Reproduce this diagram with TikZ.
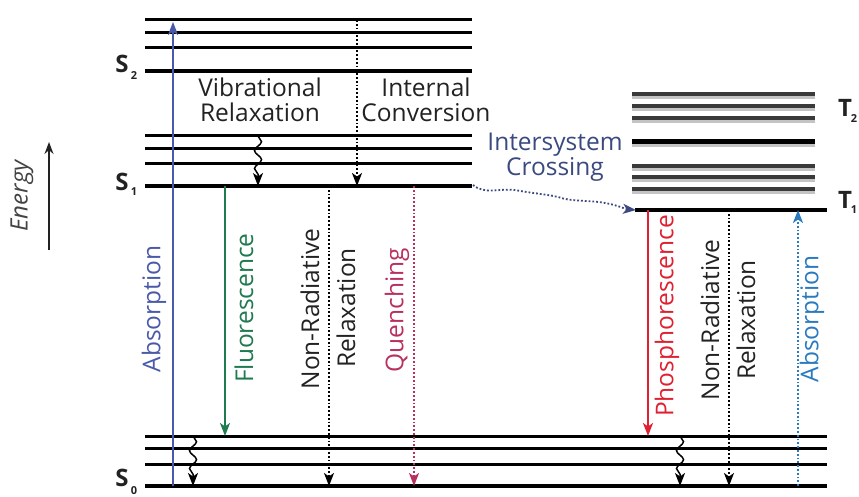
\documentclass[tikz,border=0pt]{standalone}
\usepackage{fontspec}
\setmainfont{Open Sans}
\usetikzlibrary{arrows.meta,decorations.pathmorphing}
\definecolor{absL}{HTML}{4A5AA8}
\definecolor{fluo}{HTML}{1F7A4F}
\definecolor{quen}{HTML}{B83060}
\definecolor{phos}{HTML}{E02030}
\definecolor{absR}{HTML}{2A7AC0}
\definecolor{iscc}{HTML}{3A4A80}
\definecolor{txt}{HTML}{222222}
\definecolor{tdark}{HTML}{3A3A3A}
\definecolor{tlight}{HTML}{C4C4C4}
\tikzset{
  thinlev/.style={line width=3pt, draw=black},
  thicklev/.style={line width=4.2pt, draw=black},
  tlev/.style={line width=4.6pt, draw=tdark},
  tshadow/.style={line width=3pt, draw=tlight},
  lbl/.style={font=\fontsize{24.5}{24.5}\selectfont, text=txt, inner sep=0pt, align=center},
  rlbl/.style={lbl, rotate=90},
  statelbl/.style={font=\fontsize{24}{24}\selectfont\bfseries, text=txt, inner sep=0pt, anchor=base},
  sub/.style={font=\fontsize{11}{11}\selectfont\bfseries, text=txt, inner sep=0pt, anchor=base},
  tip/.style={-{Stealth[length=13pt,width=10pt,inset=3.5pt]}},
  wavy/.style={tip, line width=1.5pt, decorate, decoration={snake, amplitude=3.5pt, segment length=18pt, post length=10pt}},
  dots/.style={tip, line width=1.8pt, dotted},
}
\begin{document}
\begin{tikzpicture}[x=1pt,y=-1pt]
\useasboundingbox (0,0) rectangle (859,497);
% ---------- singlet levels ----------
\foreach \y in {20,33,48} \draw[thinlev] (145,\y) -- (472,\y);
\draw[thicklev] (145,71) -- (472,71);
\foreach \y in {136,149,164} \draw[thinlev] (145,\y) -- (472,\y);
\draw[thicklev] (145,186) -- (472,186);
\foreach \y in {436,448,464} \draw[thinlev] (145,\y) -- (827,\y);
\draw[thicklev] (145,486) -- (827,486);
% ---------- triplet levels ----------
\foreach \y in {94,106,118,166,177,189} {
  \draw[tshadow] (632,\y+3.6) -- (815,\y+3.6);
  \draw[tlev] (632,\y) -- (815,\y);
}
\draw[tshadow] (632,145.2) -- (815,145.2);
\draw[line width=4.8pt] (632,141.5) -- (815,141.5);
\draw[thicklev] (635,210) -- (827,210);
% ---------- state labels ----------
\node[statelbl] (s2) at (122,73) {S};
\node[sub] (s2s) at (134,80) {2};
\node[statelbl] (s1) at (122,190) {S};
\node[sub] (s1s) at (134,196) {1};
\node[statelbl] (s0) at (122,486) {S};
\node[sub] (s0s) at (134,494) {0};
\node[statelbl] (t2) at (845,117) {T};
\node[sub] (t2s) at (854,123) {2};
\node[statelbl] (t1) at (845,208) {T};
\node[sub] (t1s) at (854,214) {1};
% ---------- coordinates ----------
\coordinate (absLb) at (173,486);
\coordinate (absLt) at (173,22);
\coordinate (fluT) at (225,186);
\coordinate (fluB) at (225,436);
\coordinate (vrT) at (258,136);
\coordinate (vrB) at (258,186);
\coordinate (icT) at (357,20);
\coordinate (icB) at (357,186);
\coordinate (nrT) at (329,186);
\coordinate (nrB) at (329,486);
\coordinate (quT) at (414,186);
\coordinate (quB) at (414,486);
\coordinate (v0T) at (193,436);
\coordinate (v0B) at (193,486);
\coordinate (iscA) at (473,185);
\coordinate (iscB) at (636,210);
\coordinate (phT) at (648,210);
\coordinate (phB) at (648,436);
\coordinate (v1T) at (680,436);
\coordinate (v1B) at (680,486);
\coordinate (nr2T) at (729,210);
\coordinate (nr2B) at (729,486);
\coordinate (abRb) at (798,486);
\coordinate (abRt) at (798,210);
\coordinate (enB) at (49,250);
\coordinate (enT) at (49,142);
% ---------- transitions ----------
\draw[tip, line width=1.8pt, draw=absL] (absLb) -- (absLt);
\draw[tip, line width=2pt, draw=fluo] (fluT) -- (fluB);
\draw[wavy] (vrT) -- (vrB);
\draw[dots] (icT) -- (icB);
\draw[dots] (nrT) -- (nrB);
\draw[dots, draw=quen] (quT) -- (quB);
\draw[wavy] (v0T) -- (v0B);
\draw[tip, dotted, line width=1.8pt, draw=iscc] (iscA) .. controls (485,195) and (500,188) .. (515,190)
  .. controls (530,193) and (545,194) .. (558,197)
  .. controls (572,202) and (590,200) .. (605,203)
  .. controls (617,205) and (625,209) .. (iscB);
\draw[tip, line width=2pt, draw=phos] (phT) -- (phB);
\draw[wavy] (v1T) -- (v1B);
\draw[dots] (nr2T) -- (nr2B);
\draw[dots, draw=absR] (abRb) -- (abRt);
\draw[-{Stealth[length=12pt,width=9pt]}, line width=1.6pt, draw=txt] (enB) -- (enT);
% ---------- labels ----------
\node[lbl] (vib) at (260,100) {Vibrational\\Relaxation};
\node[lbl] (ic) at (426,100) {Internal\\Conversion};
\node[lbl, text=iscc] (isc) at (555,157) {Intersystem\\Crossing};
\node[rlbl, text=absL] (labsL) at (154,309) {Absorption};
\node[rlbl, text=fluo] (lflu) at (244,308) {Fluorescence};
\node[rlbl] (lnr1) at (310,309) {Non-Radiative};
\node[rlbl] (lnr2) at (346,308) {Relaxation};
\node[rlbl, text=quen] (lqu) at (397,310) {Quenching};
\node[rlbl, text=phos] (lph) at (667,316) {Phosphorescence};
\node[rlbl] (lnr3) at (710,320) {Non-Radiative};
\node[rlbl] (lnr4) at (746,320) {Relaxation};
\node[rlbl, text=absR] (labsR) at (812,319) {Absorption};
\node[rlbl, font=\fontsize{24}{24}\selectfont\itshape, text=txt!85] (energy) at (22,196) {Energy};
\end{tikzpicture}
\end{document}
